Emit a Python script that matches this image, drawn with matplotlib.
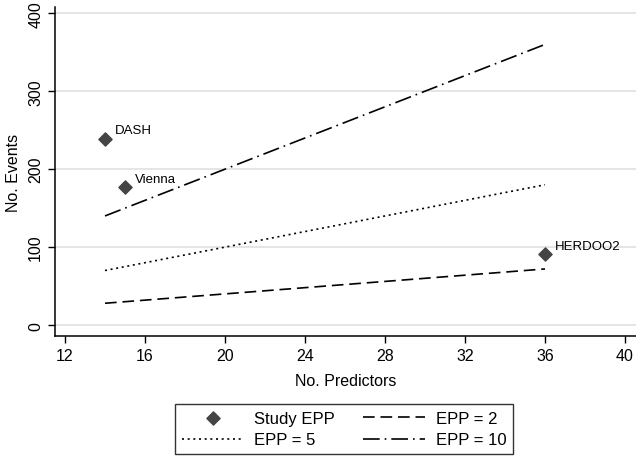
import matplotlib
matplotlib.use('Agg')
import matplotlib.pyplot as plt

plt.rcParams['font.family'] = ['Liberation Sans', 'DejaVu Sans']

# study points
studies = ["DASH", "Vienna", "HERDOO2"]
study_predictors = [14, 15, 36]
study_events = [239, 177, 91]

# EPP reference lines (endpoints)
line_predictors = [14, 36]
epp2_events = [28, 72]
epp5_events = [70, 180]
epp10_events = [140, 360]

x_ticks = [12, 16, 20, 24, 28, 32, 36, 40]
y_ticks = [0, 100, 200, 300, 400]

fig = plt.figure(figsize=(6.36, 4.6), dpi=100)
ax = fig.add_axes([0.0865, 0.2674, 0.9135, 0.7152])

for yt in y_ticks:
    ax.axhline(yt, color="#e3e3e3", lw=1.3, zorder=0)

ln2, = ax.plot(line_predictors, epp2_events, color="black", lw=1.2,
               dashes=(7, 3.5), label="EPP = 2")
ln5, = ax.plot(line_predictors, epp5_events, color="black", lw=1.2,
               dashes=(1.2, 2.2), label="EPP = 5")
ln10, = ax.plot(line_predictors, epp10_events, color="black", lw=1.2,
                dashes=(10, 3, 1, 3), label="EPP = 10")
pts = ax.scatter(study_predictors, study_events, marker="D", s=45,
                 color="#444444", zorder=3, label="Study EPP")

for name, x, y in zip(studies, study_predictors, study_events):
    ax.annotate(name, (x, y), xytext=(7, 6), textcoords="offset points",
                ha="left", va="center", fontsize=9.5)

ax.set_xlim(11.5, 40.55)
ax.set_ylim(-14, 408)
ax.set_xticks(x_ticks)
ax.set_yticks(y_ticks)
ax.set_yticklabels([str(v) for v in y_ticks], rotation=90, va="center")
ax.tick_params(labelsize=11.5, length=5, width=1, direction="out")
ax.set_xlabel("No. Predictors", fontsize=11.5, labelpad=7)
ax.set_ylabel("No. Events", fontsize=11.5, labelpad=5)

for s in ["top", "right"]:
    ax.spines[s].set_visible(False)
for s in ["left", "bottom"]:
    ax.spines[s].set_linewidth(1.1)

leg = fig.legend([pts, ln5, ln2, ln10],
                 ["Study EPP", "EPP = 5", "EPP = 2", "EPP = 10"],
                 ncol=2, loc="center", bbox_to_anchor=(0.541, 0.065),
                 fontsize=12, fancybox=False, edgecolor="#333333",
                 framealpha=1, handlelength=3.7, handletextpad=0.65,
                 columnspacing=1.7, borderpad=0.4, labelspacing=0.4)
leg.get_frame().set_linewidth(1)

fig.savefig("out.png", dpi=100)
